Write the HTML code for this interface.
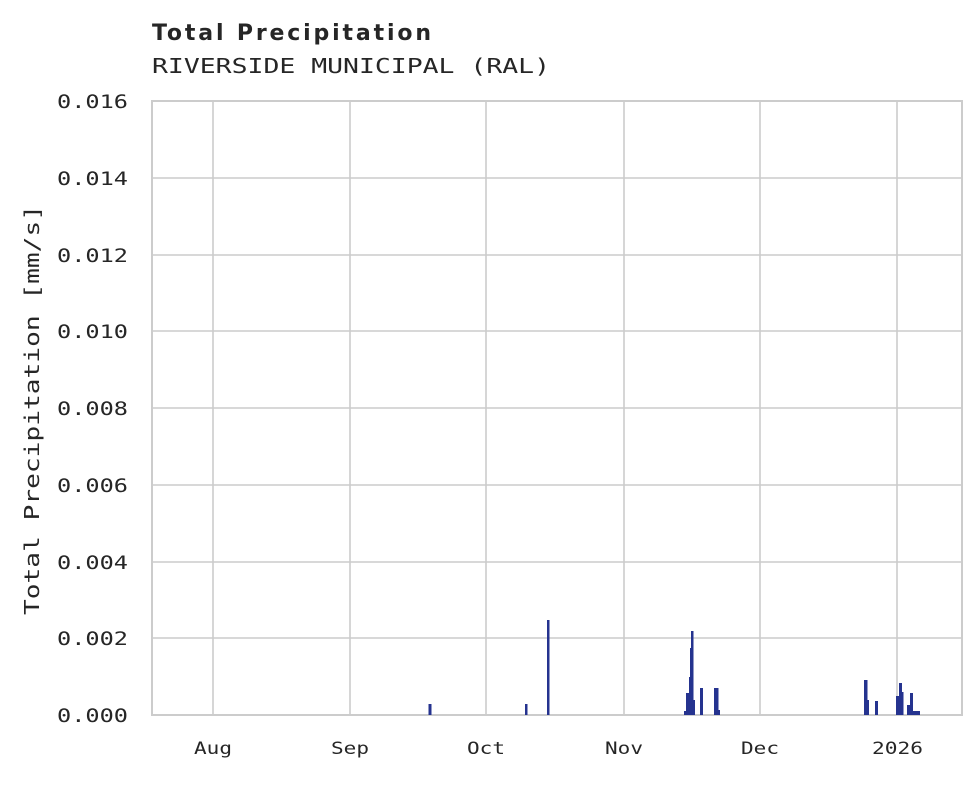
<!DOCTYPE html>
<html><head><style>
body{margin:0;background:#fff;}
svg text{font-family:"DejaVu Sans Mono","Liberation Mono",monospace;fill:#262626;}
</style></head><body>
<svg width="980" height="780" xmlns="http://www.w3.org/2000/svg">
<rect width="980" height="780" fill="#fff"/>
<text x="152" y="40" textLength="279" lengthAdjust="spacing" style="font-family:'DejaVu Sans','Liberation Sans',sans-serif;font-weight:bold;font-size:22px">Total Precipitation</text>
<text x="152" y="73" font-size="20" textLength="398" lengthAdjust="spacingAndGlyphs">RIVERSIDE MUNICIPAL (RAL)</text>
<g stroke="#cccccc" stroke-width="1.6">
<line x1="152" x2="962" y1="178" y2="178"/><line x1="152" x2="962" y1="255" y2="255"/>
<line x1="152" x2="962" y1="331" y2="331"/><line x1="152" x2="962" y1="408" y2="408"/>
<line x1="152" x2="962" y1="485" y2="485"/><line x1="152" x2="962" y1="562" y2="562"/>
<line x1="152" x2="962" y1="638" y2="638"/>
<line x1="213" x2="213" y1="101" y2="715"/><line x1="350" x2="350" y1="101" y2="715"/>
<line x1="486" x2="486" y1="101" y2="715"/><line x1="624" x2="624" y1="101" y2="715"/>
<line x1="760" x2="760" y1="101" y2="715"/><line x1="897" x2="897" y1="101" y2="715"/>
</g>
<rect x="152" y="101" width="810" height="614" fill="none" stroke="#cccccc" stroke-width="2"/>
<g fill="#25338f">
<rect x="428.5" y="704" width="3" height="11"/>
<rect x="525" y="704" width="2.5" height="11"/>
<rect x="547" y="620" width="2.5" height="95"/>
<rect x="684" y="711" width="2" height="4"/>
<rect x="686" y="693" width="3" height="22"/>
<rect x="689" y="677" width="1.5" height="38"/>
<rect x="690" y="648" width="2" height="67"/>
<rect x="691" y="631" width="2.5" height="84"/>
<rect x="693" y="700" width="2" height="15"/>
<rect x="700" y="688" width="3" height="27"/>
<rect x="714" y="688" width="4.5" height="27"/>
<rect x="718" y="710" width="2" height="5"/>
<rect x="864" y="680" width="3.5" height="35"/>
<rect x="867" y="700" width="2" height="15"/>
<rect x="875" y="701" width="3" height="14"/>
<rect x="896" y="696" width="3" height="19"/>
<rect x="899" y="683" width="3" height="32"/>
<rect x="902" y="692" width="1.5" height="23"/>
<rect x="907" y="705" width="3" height="10"/>
<rect x="910" y="693" width="3" height="22"/>
<rect x="913" y="711" width="7" height="4"/>
</g>
<g font-size="19">
<text x="57" y="108" textLength="71" lengthAdjust="spacingAndGlyphs">0.016</text><text x="57" y="185" textLength="71" lengthAdjust="spacingAndGlyphs">0.014</text>
<text x="57" y="262" textLength="71" lengthAdjust="spacingAndGlyphs">0.012</text><text x="57" y="338" textLength="71" lengthAdjust="spacingAndGlyphs">0.010</text>
<text x="57" y="415" textLength="71" lengthAdjust="spacingAndGlyphs">0.008</text><text x="57" y="492" textLength="71" lengthAdjust="spacingAndGlyphs">0.006</text>
<text x="57" y="569" textLength="71" lengthAdjust="spacingAndGlyphs">0.004</text><text x="57" y="645" textLength="71" lengthAdjust="spacingAndGlyphs">0.002</text>
<text x="57" y="722" textLength="71" lengthAdjust="spacingAndGlyphs">0.000</text>
</g>
<g font-size="17">
<text x="194" y="754" textLength="38" lengthAdjust="spacingAndGlyphs">Aug</text>
<text x="331" y="754" textLength="38" lengthAdjust="spacingAndGlyphs">Sep</text>
<text x="467" y="754" textLength="38" lengthAdjust="spacingAndGlyphs">Oct</text>
<text x="605" y="754" textLength="38" lengthAdjust="spacingAndGlyphs">Nov</text>
<text x="741" y="754" textLength="38" lengthAdjust="spacingAndGlyphs">Dec</text>
<text x="872" y="754" textLength="51" lengthAdjust="spacingAndGlyphs">2026</text>
</g>
<text transform="translate(39,615) rotate(-90)" font-size="20" textLength="410" lengthAdjust="spacingAndGlyphs">Total Precipitation [mm/s]</text>
</svg>
</body></html>
